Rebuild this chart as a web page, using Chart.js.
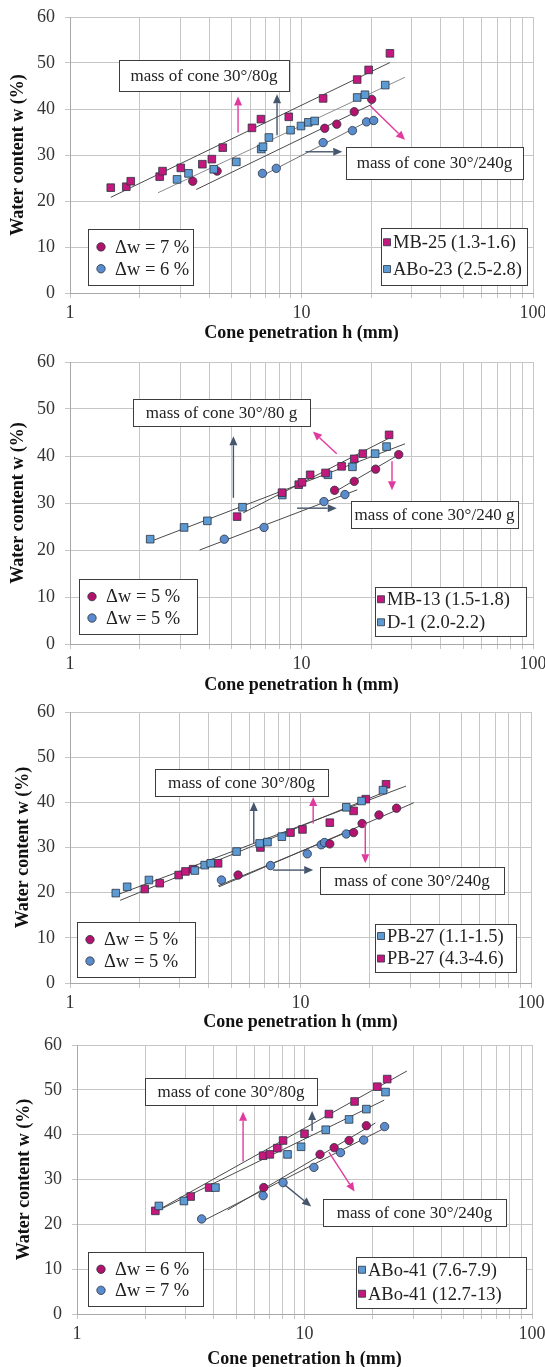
<!DOCTYPE html>
<html>
<head>
<meta charset="utf-8">
<script src="https://cdn.jsdelivr.net/npm/chart.js@4.4.1/dist/chart.umd.min.js"></script>
<style>
  html, body { margin: 0; padding: 0; background: #fff; }
  body { width: 545px; height: 1367px; position: relative; overflow: hidden; }
  canvas { position: absolute; left: 0; }
</style>
</head>
<body>
<canvas id="p1"></canvas>
<canvas id="p2"></canvas>
<canvas id="p3"></canvas>
<canvas id="p4"></canvas>
<script>
// axis ticks shared by every panel
const hTicks = [1, 2, 3, 4, 5, 6, 7, 8, 9, 10, 20, 30, 40, 50, 60, 70, 80, 90, 100];
const hLabels = [1, 10, 100];
const wTicks = [0, 10, 20, 30, 40, 50, 60];

// panel 1 : MB-25 / ABo-23   [h (mm), w (%)]
const mb25 = [[1.50, 22.9], [1.75, 23.1], [1.83, 24.3], [2.44, 25.3], [2.51, 26.5], [3.01, 27.2], [3.73, 28.0], [4.10, 29.1],
  [4.57, 31.6], [6.11, 35.9], [6.68, 37.8], [8.81, 38.3], [12.4, 42.3], [17.4, 46.4], [19.5, 48.5], [24.1, 52.1]];
const abo23 = [[2.90, 24.7], [3.25, 26.0], [4.18, 26.9], [5.23, 28.5], [6.70, 31.3], [6.82, 31.8], [7.23, 33.8], [8.97, 35.4],
  [9.95, 36.3], [10.7, 37.1], [11.4, 37.4], [17.4, 42.5], [18.8, 43.1], [23.0, 45.2]];
const mb25Heavy = [[3.39, 24.3], [4.32, 26.5], [12.6, 35.8], [14.2, 36.7], [16.9, 39.4], [20.1, 42.1]];
const abo23Heavy = [[6.78, 26.0], [7.78, 27.1], [12.4, 32.7], [16.6, 35.3], [19.1, 37.2], [20.5, 37.5]];
const mb25Fit = [[1.50, 20.8], [24.1, 50.1]];
const abo23Fit = [[2.40, 21.8], [28.0, 46.9]];
const mb25HeavyFit = [[3.51, 22.5], [20.1, 41.0]];
const abo23HeavyFit = [[6.9, 25.7], [20.5, 38.0]];

// panel 2 : MB-13 / D-1
const mb13 = [[5.27, 27.1], [8.24, 32.2], [9.73, 33.9], [10.05, 34.4], [10.9, 36.0], [12.7, 36.4], [14.9, 37.8], [16.9, 39.4],
  [18.4, 40.5], [23.9, 44.5]];
const d1 = [[2.22, 22.3], [3.11, 24.8], [3.92, 26.2], [5.56, 29.1], [8.26, 31.7], [13.0, 36.0], [16.6, 37.7], [20.8, 40.5], [23.3, 42.0]];
const mb13Heavy = [[13.9, 32.7], [16.9, 34.6], [20.9, 37.2], [26.3, 40.3]];
const d1Heavy = [[4.64, 22.3], [6.89, 24.8], [12.5, 30.3], [15.4, 31.8]];
const mb13Fit = [[5.60, 27.9], [23.9, 43.8]];
const d1Fit = [[2.22, 21.8], [28.0, 42.6]];
const mb13HeavyFit = [[13.5, 32.0], [27.0, 40.6]];
const d1HeavyFit = [[3.63, 20.0], [17.4, 32.8]];

// panel 3 : PB-27 two depths
const pb27a = [[1.58, 19.9], [1.77, 21.3], [2.20, 22.8], [3.48, 24.9], [3.84, 26.1], [4.08, 26.5], [5.28, 29.1], [6.65, 30.9],
  [7.19, 31.2], [8.30, 32.4], [15.8, 38.9], [18.4, 40.3], [22.8, 42.7]];
const pb27b = [[2.11, 20.8], [2.45, 22.1], [2.96, 23.9], [3.17, 24.7], [3.42, 25.2], [4.39, 26.5], [6.70, 30.0], [9.05, 33.3],
  [10.2, 34.0], [13.4, 35.5], [17.0, 38.1], [19.2, 40.7], [23.5, 44.0]];
const pb27bHeavy = [[5.36, 23.9], [13.4, 30.8], [17.0, 33.3], [18.5, 35.3], [21.9, 37.2], [26.1, 38.7]];
const pb27aHeavy = [[4.54, 22.8], [7.41, 26.0], [10.7, 28.6], [12.3, 30.6], [12.7, 31.1], [15.8, 33.0]];
const pb27aFit = [[1.56, 19.3], [28.7, 43.6]];
const pb27bFit = [[1.65, 18.3], [24.0, 42.6]];
const pb27bHeavyFit = [[4.43, 21.3], [31.0, 39.9]];
const pb27aHeavyFit = [[4.39, 21.5], [16.1, 33.5]];

// panel 4 : ABo-41 two depths
const abo41b = [[2.21, 23.0], [3.16, 26.2], [3.81, 28.2], [6.58, 35.3], [7.04, 35.6], [7.60, 37.0], [8.05, 38.7], [10.0, 40.2],
  [12.8, 44.6], [16.6, 47.4], [20.9, 50.7], [23.1, 52.4]];
const abo41a = [[2.29, 24.1], [2.95, 25.2], [4.06, 28.2], [8.42, 35.6], [9.66, 37.3], [12.4, 41.1], [15.7, 43.4], [18.7, 45.7], [22.7, 49.5]];
const abo41bHeavy = [[6.62, 28.2], [11.7, 35.6], [13.5, 37.1], [15.7, 38.7], [18.7, 42.0]];
const abo41aHeavy = [[3.53, 21.2], [6.58, 26.4], [8.05, 29.3], [11.0, 32.7], [14.4, 36.0], [18.2, 38.8], [22.5, 41.8]];
const abo41bFit = [[2.15, 22.5], [28.2, 54.2]];
const abo41aFit = [[2.15, 22.5], [22.4, 47.7]];
const abo41bHeavyFit = [[4.59, 23.2], [20.5, 42.6]];
const abo41aHeavyFit = [[3.53, 20.6], [22.4, 41.4]];

const SERIF = '"Liberation Serif", "Times New Roman", serif';
const MAG_SQ = '#c4187e', MAG_CI = '#b0126c', BLU_SQ = '#5c9ad4', BLU_CI = '#5a8bcc';
const EDGE = '#2b3340';
const ARROW_MAG = '#e03a9e', ARROW_BLU = '#46566c';

const toXY = pts => pts.map(p => ({ x: p[0], y: p[1] }));

function marks(pts, shape, color) {
  return {
    data: toXY(pts), pointStyle: shape, backgroundColor: color, borderColor: EDGE, borderWidth: 0.8,
    pointRadius: shape === 'rect' ? 5.4 : 4.2, showLine: false
  };
}
function fit(pts, color) {
  return { data: toXY(pts), showLine: true, borderColor: color || '#4a4a4a', borderWidth: 1, pointRadius: 0, fill: false };
}

function drawArrow(ctx, x1, y1, x2, y2, color) {
  const ang = Math.atan2(y2 - y1, x2 - x1), L = 9, W = 4;
  ctx.strokeStyle = color; ctx.fillStyle = color; ctx.lineWidth = 1.4;
  ctx.beginPath(); ctx.moveTo(x1, y1);
  ctx.lineTo(x2 - Math.cos(ang) * L, y2 - Math.sin(ang) * L); ctx.stroke();
  ctx.beginPath(); ctx.moveTo(x2, y2);
  ctx.lineTo(x2 - Math.cos(ang) * L + Math.sin(ang) * W, y2 - Math.sin(ang) * L - Math.cos(ang) * W);
  ctx.lineTo(x2 - Math.cos(ang) * L - Math.sin(ang) * W, y2 - Math.sin(ang) * L + Math.cos(ang) * W);
  ctx.closePath(); ctx.fill();
}

const extras = {
  id: 'extras',
  afterDatasetsDraw(chart, args, opts) {
    const { ctx } = chart;
    const x = chart.scales.x, y = chart.scales.y;
    const px = v => x.getPixelForValue(v), py = v => y.getPixelForValue(v);
    ctx.save();
    opts.arrows.forEach(a => drawArrow(ctx, px(a.from[0]), py(a.from[1]), px(a.to[0]), py(a.to[1]), a.color));

    const frame = b => {
      const l = Math.round(px(b[0])), t = Math.round(py(b[1])), r = Math.round(px(b[2])), bt = Math.round(py(b[3]));
      ctx.fillStyle = '#fff'; ctx.fillRect(l, t, r - l, bt - t);
      ctx.strokeStyle = '#3c3c3c'; ctx.lineWidth = 1; ctx.strokeRect(l + 0.5, t + 0.5, r - l, bt - t);
      return { l, t, r, b: bt };
    };
    opts.notes.forEach(n => {
      const f = frame(n.box);
      ctx.fillStyle = '#222'; ctx.font = '17px ' + SERIF; ctx.textAlign = 'center'; ctx.textBaseline = 'middle';
      ctx.fillText(n.text, (f.l + f.r) / 2, (f.t + f.b) / 2 + 1);
    });
    opts.legends.forEach(lg => {
      const f = frame(lg.box), h = f.b - f.t;
      lg.items.forEach((it, i) => {
        const ds = chart.data.datasets[it.ds];
        const cy = f.t + h * lg.rows[i];
        const mx = f.l + lg.markX;
        ctx.fillStyle = ds.backgroundColor; ctx.strokeStyle = EDGE; ctx.lineWidth = 0.8;
        ctx.beginPath();
        if (ds.pointStyle === 'rect') ctx.rect(mx - 3.5, cy - 3.5, 7, 7);
        else ctx.arc(mx, cy, 4.2, 0, Math.PI * 2);
        ctx.fill(); ctx.stroke();
        ctx.fillStyle = '#222'; ctx.font = '18.5px ' + SERIF; ctx.textAlign = 'left'; ctx.textBaseline = 'middle';
        ctx.fillText(it.text, f.l + lg.textX, cy + 1);
      });
    });
    ctx.restore();
  }
};

function legendPair(leftBox, rightBox, leftItems, rightItems) {
  return [
    { box: leftBox, rows: [0.32, 0.71], markX: 13, textX: 27, items: leftItems },
    { box: rightBox, rows: [0.25, 0.72], markX: 6, textX: 12, items: rightItems }
  ];
}

const panels = [
  {
    id: 'p1', top: 0, height: 344, left: 70, right: 533, plotH: 276, yTitlePad: 8,
    datasets: [marks(mb25, 'rect', MAG_SQ), marks(abo23, 'rect', BLU_SQ), marks(mb25Heavy, 'circle', MAG_CI), marks(abo23Heavy, 'circle', BLU_CI),
      fit(mb25Fit), fit(abo23Fit, '#8c8c8c'), fit(mb25HeavyFit), fit(abo23HeavyFit, '#6e6e6e')],
    arrows: [
      { from: [5.32, 34.9], to: [5.32, 42.7], color: ARROW_MAG },
      { from: [7.84, 34.3], to: [7.84, 43.2], color: ARROW_BLU },
      { from: [19.8, 40.7], to: [28.0, 33.3], color: ARROW_MAG },
      { from: [10.4, 30.7], to: [15.0, 30.7], color: ARROW_BLU }
    ],
    notes: [
      { box: [1.63, 50.65, 8.79, 44.0], text: 'mass of cone 30°/80g' },
      { box: [15.5, 31.8, 90.2, 24.7], text: 'mass of cone 30°/240g' }
    ],
    legends: legendPair([1.20, 14.0, 3.41, 1.74], [22.0, 14.2, 94.1, 1.74],
      [{ ds: 2, text: 'Δw = 7 %' }, { ds: 3, text: 'Δw = 6 %' }],
      [{ ds: 0, text: 'MB-25 (1.3-1.6)' }, { ds: 1, text: 'ABo-23 (2.5-2.8)' }])
  },
  {
    id: 'p2', top: 345, height: 351, left: 70, right: 533, plotH: 282, yTitlePad: 8,
    datasets: [marks(mb13, 'rect', MAG_SQ), marks(d1, 'rect', BLU_SQ), marks(mb13Heavy, 'circle', MAG_CI), marks(d1Heavy, 'circle', BLU_CI),
      fit(mb13Fit), fit(d1Fit), fit(mb13HeavyFit), fit(d1HeavyFit)],
    arrows: [
      { from: [5.08, 31.1], to: [5.08, 44.2], color: ARROW_BLU },
      { from: [14.2, 40.5], to: [11.2, 45.2], color: ARROW_MAG },
      { from: [24.6, 38.9], to: [24.6, 32.7], color: ARROW_MAG },
      { from: [9.57, 28.9], to: [14.2, 28.9], color: ARROW_BLU }
    ],
    notes: [
      { box: [1.87, 52.2, 10.9, 46.3], text: 'mass of cone 30°/80 g' },
      { box: [16.3, 30.5, 86.0, 24.7], text: 'mass of cone 30°/240 g' }
    ],
    legends: legendPair([1.09, 13.9, 3.53, 2.19], [20.7, 12.2, 93.1, 1.77],
      [{ ds: 2, text: 'Δw = 5 %' }, { ds: 3, text: 'Δw = 5 %' }],
      [{ ds: 0, text: 'MB-13 (1.5-1.8)' }, { ds: 1, text: 'D-1 (2.0-2.2)' }])
  },
  {
    id: 'p3', top: 695, height: 338, left: 70, right: 531, plotH: 271, yTitlePad: 13,
    datasets: [marks(pb27a, 'rect', BLU_SQ), marks(pb27b, 'rect', MAG_SQ), marks(pb27bHeavy, 'circle', MAG_CI), marks(pb27aHeavy, 'circle', BLU_CI),
      fit(pb27aFit), fit(pb27bFit), fit(pb27bHeavyFit), fit(pb27aHeavyFit)],
    arrows: [
      { from: [6.27, 30.9], to: [6.27, 40.1], color: ARROW_BLU },
      { from: [11.35, 35.3], to: [11.35, 41.2], color: ARROW_MAG },
      { from: [19.1, 35.3], to: [19.1, 26.5], color: ARROW_MAG },
      { from: [7.6, 25.0], to: [11.35, 25.0], color: ARROW_BLU }
    ],
    notes: [
      { box: [2.33, 47.3, 13.2, 41.4], text: 'mass of cone 30°/80g' },
      { box: [12.2, 25.6, 76.5, 19.7], text: 'mass of cone 30°/240g' }
    ],
    legends: legendPair([1.07, 13.5, 3.48, 1.39], [21.0, 13.1, 86.4, 2.5],
      [{ ds: 2, text: 'Δw = 5 %' }, { ds: 3, text: 'Δw = 5 %' }],
      [{ ds: 0, text: 'PB-27 (1.1-1.5)' }, { ds: 1, text: 'PB-27 (4.3-4.6)' }])
  },
  {
    id: 'p4', top: 1028, height: 342, left: 77, right: 532, plotH: 269, yTitlePad: 14,
    datasets: [marks(abo41a, 'rect', BLU_SQ), marks(abo41b, 'rect', MAG_SQ), marks(abo41bHeavy, 'circle', MAG_CI), marks(abo41aHeavy, 'circle', BLU_CI),
      fit(abo41aFit), fit(abo41bFit), fit(abo41bHeavyFit), fit(abo41aHeavyFit)],
    arrows: [
      { from: [5.37, 34.0], to: [5.37, 45.1], color: ARROW_MAG },
      { from: [10.8, 40.8], to: [10.8, 45.3], color: ARROW_BLU },
      { from: [12.8, 36.1], to: [16.6, 27.3], color: ARROW_MAG },
      { from: [8.19, 28.8], to: [10.7, 24.0], color: ARROW_BLU }
    ],
    notes: [
      { box: [1.99, 52.7, 11.4, 46.6], text: 'mass of cone 30°/80g' },
      { box: [12.1, 25.7, 76.7, 19.7], text: 'mass of cone 30°/240g' }
    ],
    legends: legendPair([1.12, 13.9, 3.59, 1.69], [16.9, 12.8, 94.0, 1.4],
      [{ ds: 2, text: 'Δw = 6 %' }, { ds: 3, text: 'Δw = 7 %' }],
      [{ ds: 0, text: 'ABo-41 (7.6-7.9)' }, { ds: 1, text: 'ABo-41 (12.7-13)' }])
  }
];

const PLOT_TOP = 17;

panels.forEach(p => {
  const canvas = document.getElementById(p.id);
  canvas.width = 545;
  canvas.height = p.height;
  canvas.style.top = p.top + 'px';
  const xZone = p.height - PLOT_TOP - p.plotH;

  new Chart(canvas, {
    type: 'scatter',
    data: { datasets: p.datasets },
    options: {
      responsive: false,
      animation: false,
      devicePixelRatio: 1,
      layout: { padding: { top: PLOT_TOP, right: 545 - p.right, bottom: 0, left: 0 } },
      plugins: {
        legend: { display: false },
        tooltip: { enabled: false },
        extras: { arrows: p.arrows, notes: p.notes, legends: p.legends }
      },
      scales: {
        x: {
          type: 'logarithmic', min: 1, max: 100,
          afterBuildTicks: s => { s.ticks = hTicks.map(v => ({ value: v })); },
          afterFit: s => { s.height = xZone; s.paddingLeft = 0; s.paddingRight = 0; },
          ticks: {
            autoSkip: false, maxRotation: 0, padding: 4, color: '#333',
            font: { family: SERIF, size: 18 },
            callback: v => hLabels.includes(v) ? String(v) : ''
          },
          grid: { color: '#c6c6c6', lineWidth: 1, tickLength: 5 },
          border: { color: '#a8a8a8' },
          title: {
            display: true, text: 'Cone penetration h (mm)', color: '#111',
            font: { family: SERIF, size: 18, weight: 'bold' }, padding: { top: 0, bottom: 0 }
          }
        },
        y: {
          min: 0, max: 60,
          afterBuildTicks: s => { s.ticks = wTicks.map(v => ({ value: v })); },
          afterFit: s => { s.width = p.left; s.paddingTop = 0; s.paddingBottom = 0; },
          ticks: { padding: 10, color: '#333', font: { family: SERIF, size: 18 } },
          grid: { color: '#c6c6c6', lineWidth: 1, tickLength: 5 },
          border: { color: '#a8a8a8' },
          title: {
            display: true, text: 'Water content w (%)', color: '#111',
            font: { family: SERIF, size: 18, weight: 'bold' }, padding: { top: p.yTitlePad, bottom: 0 }
          }
        }
      }
    },
    plugins: [extras]
  });
});
</script>
</body>
</html>
